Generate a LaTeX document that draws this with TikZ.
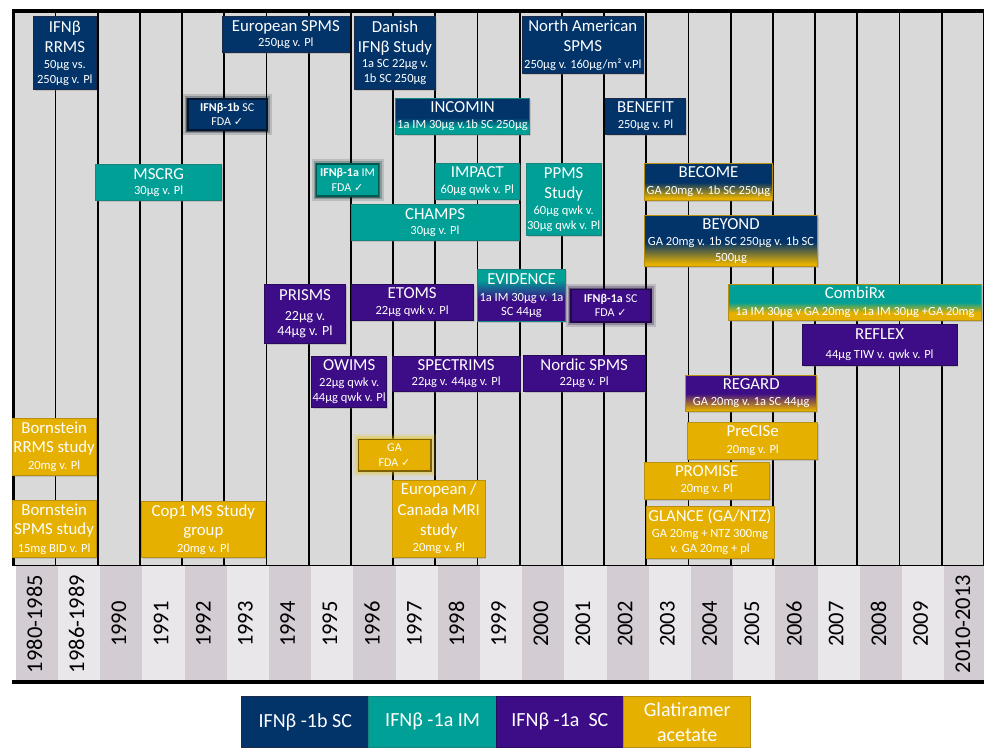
\documentclass[tikz,border=0pt]{standalone}
\usepackage{fontspec}
\setmainfont{Carlito}
\newfontfamily\djv{DejaVu Sans}
\usetikzlibrary{shadows}

\definecolor{cnavy}{HTML}{02346A}
\definecolor{cnavyd}{HTML}{1A2A48}
\definecolor{cteal}{HTML}{00A096}
\definecolor{ctealD}{HTML}{16857D}
\definecolor{cpurple}{HTML}{3D0C87}
\definecolor{cpurpled}{HTML}{2A0A5C}
\definecolor{cgold}{HTML}{E5B000}
\definecolor{cgoldd}{HTML}{B98F10}
\definecolor{chartbg}{HTML}{D9D9D9}
\definecolor{yrdark}{HTML}{D3CCD3}
\definecolor{yrlight}{HTML}{E9E7EA}

\pgfdeclareverticalshading{shnavyteal}{100bp}{color(0bp)=(cteal); color(35bp)=(cteal); color(48bp)=(cnavy); color(100bp)=(cnavy)}
\pgfdeclareverticalshading{shnavygold}{100bp}{color(0bp)=(cgold); color(28bp)=(cgold); color(49bp)=(cnavy); color(100bp)=(cnavy)}
\pgfdeclareverticalshading{shtealpurple}{100bp}{color(0bp)=(cpurple); color(46bp)=(cpurple); color(65bp)=(cteal); color(100bp)=(cteal)}
\pgfdeclareverticalshading{shtealgold}{100bp}{color(0bp)=(cgold); color(36bp)=(cgold); color(50bp)=(cteal); color(100bp)=(cteal)}
\pgfdeclareverticalshading{shpurplegold}{100bp}{color(0bp)=(cgold); color(27bp)=(cgold); color(50bp)=(cpurple); color(100bp)=(cpurple)}

\newcommand\tfont{\fontsize{16.8}{15}\selectfont}
\newcommand\ck{{\djv\fontsize{11}{10}\selectfont ✓}}
\newcommand\tlbox[7]{\node[#2, minimum width={#5-#3}, minimum height={#6-#4}] (#1) at ({(#3+#5)/2},{(#4+#6)/2}) {#7};}

\tikzset{
  bx/.style={rectangle, inner sep=0pt, align=center, text=white,
    font=\fontsize{12.5}{15}\selectfont, line width=0.8pt,
    drop shadow={shadow xshift=1.2pt, shadow yshift=-1.6pt, opacity=0.3}},
  navybox/.style={bx, fill=cnavy, draw=cnavyd},
  tealbox/.style={bx, fill=cteal, draw=ctealD},
  purplebox/.style={bx, fill=cpurple, draw=cpurpled},
  goldbox/.style={bx, fill=cgold, draw=cgoldd},
  gradbox/.style={bx, shading=#1},
  glow/.style={preaction={draw=#1, line width=10pt, opacity=0.15},
    preaction={draw=#1, line width=6pt, opacity=0.25},
    preaction={draw=#1, line width=3pt, opacity=0.45}},
  fdabox/.style={rectangle, inner sep=0pt, align=center, text=white,
    font=\fontsize{12}{14.5}\selectfont, line width=1.6pt},
  yearlab/.style={rotate=90, inner sep=0pt, font=\fontsize{22.5}{27}\selectfont},
  legbox/.style={rectangle, inner sep=0pt, align=center, text=white, line width=1pt,
    font=\fontsize{20}{25}\selectfont, minimum width=127.3pt, minimum height=50.3pt}
}

\begin{document}
\begin{tikzpicture}[x=1pt,y=-1pt]
\lineskiplimit=-100pt
\useasboundingbox (0,0) rectangle (984,747);
\fill[white] (0,0) rectangle (984,747);
% chart background
\fill[chartbg] (13.3,11) rectangle (984,565);
% year strip
\foreach \i in {0,2,...,22} \fill[yrdark] ({13.3+42.2*\i+2.5},566) rectangle ({13.3+42.2*(\i+1)+2.5},680);
\foreach \i in {1,3,...,21} \fill[yrlight] ({13.3+42.2*\i+2.5},566) rectangle ({13.3+42.2*(\i+1)+2.5},680);
% grid
\foreach \i in {1,...,23} \draw[line width=1.8pt] ({13.3+42.2*\i},11) -- ({13.3+42.2*\i},566);
\draw[line width=2.5pt] (13.3,9) -- (13.3,566);
\draw[line width=4pt] (12,11) -- (984,11);
\draw[line width=1.5pt] (12,565.5) -- (984,565.5);
\draw[line width=4pt] (12,682) -- (984,682);
% year labels
\foreach \lab [count=\i from 0] in {1980-1985,1986-1989,1990,1991,1992,1993,1994,1995,1996,1997,1998,1999,2000,2001,2002,2003,2004,2005,2006,2007,2008,2009,2010-2013}
  \node[yearlab] (yr\i) at ({13.3+42.2*\i+21.1},624) {\lab};

% IFN beta-1b SC (navy)
\tlbox{rrms}{navybox}{33.7}{16.7}{96}{89}{{\tfont IFNβ}\\[5pt]{\tfont RRMS}\\[1pt]50µg vs.\\250µg v. Pl}
\tlbox{eurspms}{navybox}{222.7}{16.7}{349}{52.7}{{\tfont European SPMS}\\[0.5pt]250µg v. Pl}
\tlbox{danish}{navybox}{354.3}{16.7}{435.7}{89}{{\tfont Danish}\\[5.5pt]{\tfont IFNβ Study}\\[0pt]1a SC 22µg v.\\1b SC 250µg}
\tlbox{naspms}{navybox}{522.3}{16.7}{643.3}{73.3}{{\tfont North American}\\[5pt]{\tfont SPMS}\\[1.5pt]250µg v. 160µg/m² v.Pl}
\tlbox{benefit}{navybox}{605.3}{98.3}{685.7}{134.3}{{\tfont BENEFIT}\\[1.5pt]250µg v. Pl}
\tlbox{fdaonebsc}{fdabox, fill=cnavy, draw=black!55!cnavy, glow=black!80!cnavy}{187.7}{99}{266.7}{130}{\textbf{IFNβ-1b} SC\\FDA \ck}

% IFN beta-1a IM (teal)
\tlbox{mscrg}{tealbox}{95.7}{164}{221.7}{200.3}{{\tfont MSCRG}\\[0pt]30µg v. Pl}
\tlbox{fdaoneaim}{fdabox, fill=cteal, draw=black!45!cteal, glow=black!75!cteal}{316.5}{164}{378.5}{196}{\textbf{IFNβ-1a} IM\\FDA \ck}
\tlbox{impact}{tealbox}{435.3}{163.3}{519.3}{199.3}{{\tfont IMPACT}\\[1.5pt]60µg qwk v. Pl}
\tlbox{ppms}{tealbox}{526.3}{163.3}{601}{235.7}{{\tfont PPMS}\\[4.5pt]{\tfont Study}\\[1.5pt]60µg qwk v.\\[-0.5pt]30µg qwk v. Pl}
\tlbox{champs}{tealbox}{351}{204.7}{519}{240.7}{{\tfont CHAMPS}\\[0.5pt]30µg v. Pl}

% mixed (gradient) boxes
\tlbox{incomin}{gradbox=shnavyteal, draw=ctealD}{395.7}{98.3}{529.3}{134.3}{{\tfont INCOMIN}\\[1.5pt]1a IM 30µg v.1b SC 250µg}
\tlbox{become}{gradbox=shnavygold, draw=cgoldd}{644.3}{163.3}{772.7}{200}{{\tfont BECOME}\\[1.5pt]GA 20mg v. 1b SC 250µg}
\tlbox{beyond}{gradbox=shnavygold, draw=cgoldd}{644.3}{215.7}{817.7}{266.7}{{\tfont BEYOND}\\[1.5pt]GA 20mg v. 1b SC 250µg v. 1b SC\\[1pt]500µg}
\tlbox{evidence}{gradbox=shtealpurple, draw=ctealD}{477.7}{269.3}{565.3}{321.7}{{\tfont EVIDENCE}\\[2pt]1a IM 30µg v. 1a\\[-1.5pt]SC 44µg}
\tlbox{combirx}{gradbox=shtealgold, draw=cgoldd}{728.3}{284}{981.7}{320.7}{{\tfont CombiRx}\\[1.5pt]1a IM 30µg v GA 20mg v 1a IM 30µg +GA 20mg}
\tlbox{regard}{gradbox=shpurplegold, draw=cgoldd}{685.7}{375}{816.7}{411.7}{{\tfont REGARD}\\[1pt]GA 20mg v. 1a SC 44µg}

% IFN beta-1a SC (purple)
\tlbox{prisms}{purplebox}{264.3}{284.3}{345.7}{343.3}{{\tfont PRISMS}\\[5pt]{\fontsize{14}{15}\selectfont 22µg v.}\\{\fontsize{14}{15}\selectfont 44µg v. Pl}}
\tlbox{etoms}{purplebox}{351}{284}{473.3}{320.7}{{\tfont ETOMS}\\[1pt]22µg qwk v. Pl}
\tlbox{fdaoneasc}{fdabox, fill=cpurple, draw=black!45!cpurple, glow=black!60!cpurple}{570.7}{289.3}{650.7}{321.7}{\textbf{IFNβ-1a} SC\\FDA \ck}
\tlbox{owims}{purplebox}{311.7}{356}{386.7}{407.3}{{\tfont OWIMS}\\[0.5pt]22µg qwk v.\\44µg qwk v. Pl}
\tlbox{spectrims}{purplebox}{392.3}{356}{520}{391.7}{{\tfont SPECTRIMS}\\[0pt]22µg v. 44µg v. Pl}
\tlbox{nordic}{purplebox}{523.3}{355}{645}{391.7}{{\tfont Nordic SPMS}\\[0pt]22µg v. Pl}
\tlbox{reflex}{purplebox}{802.3}{324}{957}{365.7}{{\tfont REFLEX}\\[4.5pt]44µg TIW v. qwk v. Pl}

% Glatiramer acetate (gold)
\tlbox{bornrrms}{goldbox}{12.3}{418.3}{96}{475}{{\tfont Bornstein}\\[4pt]{\tfont RRMS study}\\[2pt]20mg v. Pl}
\tlbox{bornspms}{goldbox}{12.3}{500.7}{96}{557.3}{{\tfont Bornstein}\\[4.6pt]{\tfont SPMS study}\\[2.5pt]15mg BID v. Pl}
\tlbox{copone}{goldbox}{141.7}{501.7}{265}{557.3}{{\tfont Cop1 MS Study}\\[4pt]{\tfont group}\\[1.5pt]20mg v. Pl}
\tlbox{gafda}{fdabox, fill=cgold, draw=black!45!cgold, glow=cgold!80!yellow}{358.3}{439.3}{430.7}{470.7}{GA\\FDA \ck}
\tlbox{eurcan}{goldbox}{392.7}{480}{485}{557.3}{{\tfont European /}\\[5.5pt]{\tfont Canada MRI}\\[5pt]{\tfont study}\\[1.5pt]20mg v. Pl}
\tlbox{precise}{goldbox}{687.7}{422.7}{817.7}{459}{{\tfont PreCISe}\\[1.5pt]20mg v. Pl}
\tlbox{promise}{goldbox}{644}{462}{769.3}{499}{{\tfont PROMISE}\\[1pt]20mg v. Pl}
\tlbox{glance}{goldbox}{646}{506}{774}{558.3}{{\tfont GLANCE (GA/NTZ)}\\[1pt]GA 20mg + NTZ 300mg\\[0.3pt]v. GA 20mg + pl}

% legend
\node[legbox, fill=cnavy, draw=cnavyd] (lgnavy) at (305.3,721.85) {IFNβ -1b SC};
\node[legbox, fill=cteal, draw=ctealD] (lgteal) at (432.6,721.85) {IFNβ -1a IM};
\node[legbox, fill=cpurple, draw=cpurpled] (lgpurple) at (559.9,721.85) {IFNβ -1a\ \ SC};
\node[legbox, fill=cgold, draw=cgoldd] (lggold) at (687.2,721.85) {Glatiramer\\acetate};
\end{tikzpicture}
\end{document}
